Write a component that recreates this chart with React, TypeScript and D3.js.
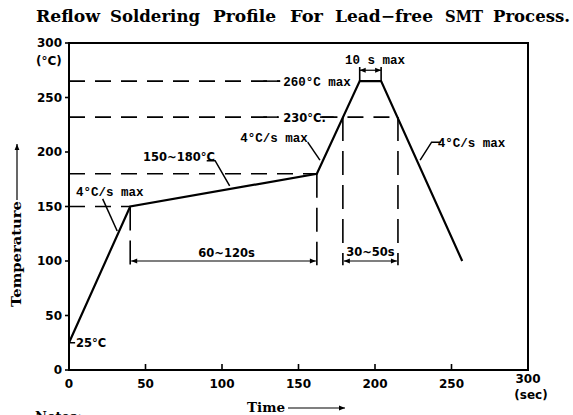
import * as React from 'react';
import * as d3 from 'd3';

const W = 573;
const H = 415;

// temperature profile (time in s, temperature in °C)
const profileTime = [0, 40, 162, 190, 204, 257];
const profileTemp = [25, 150, 180, 265, 265, 100];

const xTicks = [0, 50, 100, 150, 200, 250, 300];
const yTicks = [0, 50, 100, 150, 200, 250, 300];

// dashed reference levels: temp and the time where the dash stops
const levelTemps = [150, 180, 232, 265];
const levelEnds = [40, 162, 137, 138];

// dashed verticals: time and the temp where they start
const markTimes = [40, 162, 179, 215];
const markTops = [150, 180, 232, 232];

// title words, spread across the top like the scanned sheet
const titleWords = ['Reflow', 'Soldering', 'Profile', 'For', 'Lead−free', 'SMT', 'Process.'];
const titleStarts = [36, 110, 213, 290, 335, 445, 493];
const titleEnds = [100, 200, 276, 323, 433, 483, 570];

const serif = '"DejaVu Serif", serif';
const sans = '"DejaVu Sans", sans-serif';
const mono = '"Liberation Mono", monospace';

export default function App() {
  const x = d3.scaleLinear().domain([0, 300]).range([69, 528]);
  const y = d3.scaleLinear().domain([0, 300]).range([370, 43]);

  const line = d3.line<number>()
    .x((_, i) => x(profileTime[i]))
    .y(d => y(d));

  const seg = (pts: [number, number][]) =>
    d3.line<[number, number]>().x(d => x(d[0])).y(d => y(d[1]))(pts) as string;

  const dimY = y(100);

  return (
    <svg width={W} height={H} style={{position: 'absolute', left: 0, top: 0, background: '#fff'}}>
      <defs>
        <marker id="arr" viewBox="0 0 10 10" refX="10" refY="5" markerWidth="8" markerHeight="6"
                markerUnits="userSpaceOnUse" orient="auto-start-reverse">
          <path d="M0,1 L10,5 L0,9 z" fill="#000"/>
        </marker>
      </defs>

      <g fontFamily={serif} fontSize={17} fontWeight="bold">
        {titleWords.map((w, i) => (
          <text key={w} x={titleStarts[i]} y={22} textLength={titleEnds[i] - titleStarts[i]}
                lengthAdjust="spacingAndGlyphs">{w}</text>
        ))}
      </g>

      {/* dashed guides */}
      <g stroke="#000" strokeWidth={1.6} fill="none">
        {levelTemps.map((t, i) => (
          <line key={'h' + i} x1={x(0)} x2={x(levelEnds[i])} y1={y(t)} y2={y(t)} strokeDasharray="16,10"/>
        ))}
        <line x1={x(165)} x2={x(215)} y1={y(232)} y2={y(232)} strokeDasharray="16,10"/>
        {markTimes.map((t, i) => (
          <line key={'v' + i} x1={x(t)} x2={x(t)} y1={y(markTops[i])} y2={y(96)} strokeDasharray="24,10"/>
        ))}
      </g>

      {/* axes box */}
      <rect x={x(0)} y={y(300)} width={x(300) - x(0)} height={y(0) - y(300)} fill="none" stroke="#000" strokeWidth={2}/>
      <g stroke="#000" strokeWidth={1.6}>
        {yTicks.map(t => <line key={t} x1={x(0) - 4} x2={x(0)} y1={y(t)} y2={y(t)}/>)}
        {xTicks.slice(1, -1).map(t => <line key={t} x1={x(t)} x2={x(t)} y1={y(0)} y2={y(0) - 6}/>)}
      </g>
      <g fontFamily={sans} fontWeight="bold" fontSize={12}>
        {yTicks.map(t => (
          <text key={t} x={x(0) - 7} y={y(t)} dy="0.35em" textAnchor="end">{t}</text>
        ))}
        <text x={36} y={y(300) + 22}>(°C)</text>
        {xTicks.map(t => (
          <text key={t} x={x(t)} y={t === 300 ? 383 : 388} textAnchor="middle">{t}</text>
        ))}
        <text x={x(300) + 3} y={399} textAnchor="middle">(sec)</text>
      </g>

      {/* profile */}
      <path d={line(profileTemp) as string} fill="none" stroke="#000" strokeWidth={2.2}/>

      {/* dimension arrows */}
      <g stroke="#000" strokeWidth={1.2}>
        <line x1={x(40) + 1} x2={x(162) - 1} y1={dimY} y2={dimY} markerStart="url(#arr)" markerEnd="url(#arr)"/>
        <line x1={x(179) + 1} x2={x(215) - 1} y1={dimY} y2={dimY} markerStart="url(#arr)" markerEnd="url(#arr)"/>
        <line x1={x(190)} x2={x(190)} y1={y(278)} y2={y(265)} strokeWidth={1.6}/>
        <line x1={x(204)} x2={x(204)} y1={y(278)} y2={y(265)} strokeWidth={1.6}/>
        <line x1={x(190)} x2={x(204)} y1={y(275)} y2={y(275)} markerStart="url(#arr)" markerEnd="url(#arr)"/>
      </g>

      {/* leaders */}
      <g stroke="#000" strokeWidth={1.5} fill="none">
        <path d={seg([[22, 157], [31.5, 127.5]])}/>
        <path d={seg([[90, 192], [95.5, 192], [105, 169]])}/>
        <path d={seg([[156, 209], [164, 192.5]])}/>
        <path d={seg([[243, 209], [237, 209], [229.5, 192.5]])}/>
        <path d={seg([[0, 25], [4, 25]])}/>
        <path d={seg([[127, 265], [138, 265]])}/>
        <path d={seg([[127, 232], [137, 232]])}/>
        <path d={seg([[164, 232], [173, 232]])}/>
      </g>

      {/* annotations */}
      <g fontFamily={mono} fontWeight="bold" fontSize={12.5}>
        <text x={x(4.6)} y={y(160)}>4°C/s max</text>
        <text x={x(112)} y={y(209)}>4°C/s max</text>
        <text x={x(241)} y={y(205)}>4°C/s max</text>
        <text x={x(140)} y={y(261)}>260°C max</text>
        <text x={x(180.4)} y={y(281)}>10 s max</text>
      </g>
      <g fontFamily={sans} fontWeight="bold" fontSize={11.5}>
        <text x={x(48.4)} y={y(192)}>150~180°C</text>
        <text x={x(140)} y={y(227.5)}>230°C.</text>
        <text x={x(4.6)} y={y(21)}>25°C</text>
        <text x={x(103)} y={y(103.7)} textAnchor="middle">60~120s</text>
        <text x={x(197)} y={y(104.6)} textAnchor="middle">30~50s</text>
      </g>

      {/* axis titles */}
      <text transform="translate(21,307) rotate(-90)" fontFamily={serif} fontWeight="bold" fontSize={13}
            textLength={106} lengthAdjust="spacingAndGlyphs">Temperature</text>
      <line x1={17} x2={17} y1={200} y2={144} stroke="#000" strokeWidth={1.2} markerEnd="url(#arr)"/>
      <text x={247} y={412} fontFamily={serif} fontWeight="bold" fontSize={13}
            textLength={38} lengthAdjust="spacingAndGlyphs">Time</text>
      <line x1={288} x2={345} y1={408} y2={408} stroke="#000" strokeWidth={1.2} markerEnd="url(#arr)"/>
      <text x={35} y={421} fontFamily={serif} fontWeight="bold" fontSize={13}>Notes:</text>
    </svg>
  );
}
